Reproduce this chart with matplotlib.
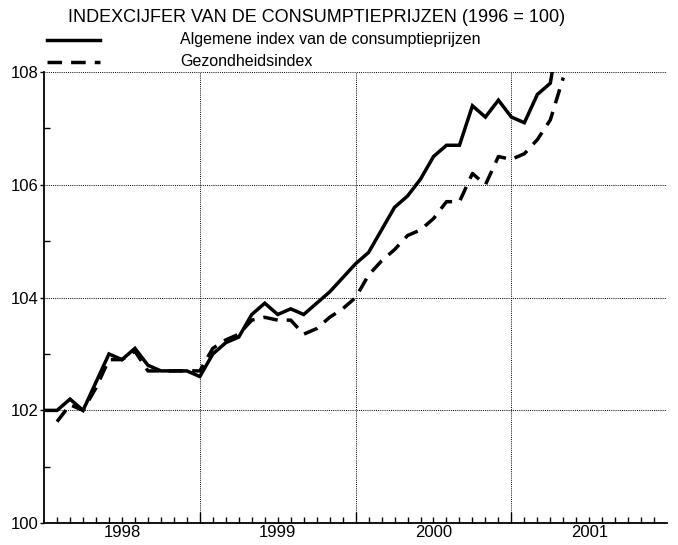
import matplotlib
matplotlib.use("Agg")
import matplotlib.pyplot as plt
from matplotlib.lines import Line2D
import numpy as np

plt.rcParams['font.family'] = ['Liberation Sans', 'DejaVu Sans']

# months since Jan 1998
months_alg = list(range(0, 41))
algemene = [102.0, 102.0, 102.2, 102.0, 102.5, 103.0, 102.9, 103.1, 102.8, 102.7,
            102.7, 102.7, 102.6, 103.0, 103.2, 103.3, 103.7, 103.9, 103.7, 103.8,
            103.7, 103.9, 104.1, 104.35, 104.6, 104.8, 105.2, 105.6, 105.8, 106.1,
            106.5, 106.7, 106.7, 107.4, 107.2, 107.5, 107.2, 107.1, 107.6, 107.8,
            109.2]

months_gez = list(range(1, 41))
gezondheid = [101.8, 102.1, 102.0, 102.4, 102.9, 102.9, 103.05, 102.7, 102.7,
              102.7, 102.7, 102.7, 103.1, 103.25, 103.35, 103.6, 103.65, 103.6, 103.6,
              103.35, 103.45, 103.65, 103.8, 104.0, 104.4, 104.65, 104.85, 105.1, 105.2,
              105.4, 105.7, 105.7, 106.2, 106.0, 106.5, 106.45, 106.55, 106.8, 107.15,
              107.9]

years = ['1998', '1999', '2000', '2001']
title = "INDEXCIJFER VAN DE CONSUMPTIEPRIJZEN (1996 = 100)"
label_alg = "Algemene index van de consumptieprijzen"
label_gez = "Gezondheidsindex"

fig = plt.figure(figsize=(6.78, 5.45), dpi=100)
ax = fig.add_axes([0.065, 0.04, 0.919, 0.828])

ax.plot(months_alg, algemene, '-', color='black', lw=2.5, solid_joinstyle='miter')
ax.plot(months_gez, gezondheid, color='black', lw=2.5, dashes=(4.2, 2.6))

ax.set_xlim(0, 48)
ax.set_ylim(100, 108)

# grid: dotted lines at year boundaries and even index values
for xv in [12, 24, 36, 48]:
    ax.axvline(xv, color='black', lw=0.7, ls=(0, (1, 1.2)), zorder=0)
for yv in [102, 104, 106, 108]:
    ax.axhline(yv, color='black', lw=0.7, ls=(0, (1, 1.2)), zorder=0)

for s in ['top', 'right']:
    ax.spines[s].set_visible(False)
ax.spines['left'].set_linewidth(1.3)
ax.spines['bottom'].set_linewidth(1.3)

ax.set_yticks([100, 102, 104, 106, 108])
ax.set_yticks([101, 103, 105, 107], minor=True)
ax.tick_params(axis='y', which='major', direction='out', length=3, width=1, labelsize=12, pad=1)
ax.tick_params(axis='y', which='minor', direction='in', length=4, width=1)

ax.set_xticks([12, 24, 36])
ax.set_xticks(np.arange(1, 48), minor=True)
ax.tick_params(axis='x', which='major', direction='in', length=8, width=1, labelbottom=False)
ax.tick_params(axis='x', which='minor', direction='in', length=4, width=1)
for i, yr in enumerate(years):
    ax.text(i * 12 + 6, -0.005, yr, transform=ax.get_xaxis_transform(),
            ha='center', va='top', fontsize=12)

fig.text(0.100, 0.968, title, fontsize=13, ha='left', va='center')
fig.add_artist(Line2D([0.069, 0.148], [0.926, 0.926], color='black', lw=2.5,
                      transform=fig.transFigure))
fig.add_artist(Line2D([0.069, 0.148], [0.886, 0.886], color='black', lw=2.5,
                      dashes=(4.2, 2.6), transform=fig.transFigure))
fig.text(0.266, 0.928, label_alg, fontsize=11.5, ha='left', va='center')
fig.text(0.266, 0.888, label_gez, fontsize=11.5, ha='left', va='center')

fig.savefig('out.png', dpi=100)
